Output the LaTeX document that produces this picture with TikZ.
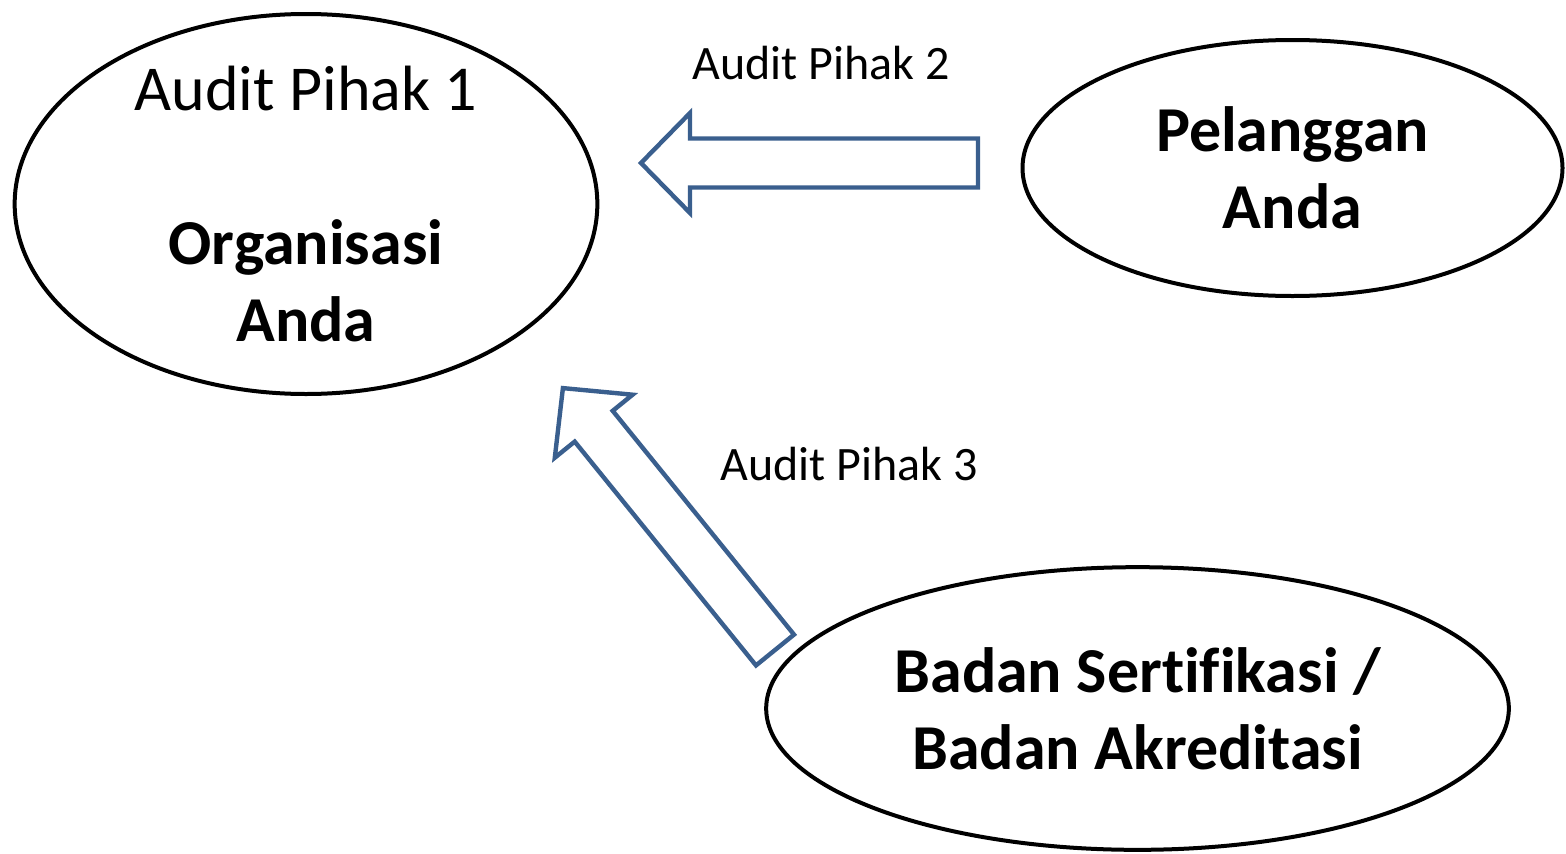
\documentclass[tikz,border=0pt]{standalone}
\usepackage{fontspec}
\setmainfont{Carlito}[Ligatures=NoCommon]
\usetikzlibrary{shapes.geometric}
\definecolor{arrowblue}{HTML}{3A5F8E}
\begin{document}
\begin{tikzpicture}[x=0.75pt,y=-0.75pt,
  party/.style={draw=black, line width=3pt, ellipse, inner sep=0pt},
  partytext/.style={align=center, inner sep=0pt,
    font=\fontsize{48}{57.75}\selectfont\bfseries},
  blockarrow/.style={draw=arrowblue, line width=3.3pt, line join=miter, fill=white},
  auditlabel/.style={inner sep=0pt, font=\fontsize{36}{43}\selectfont}]
\useasboundingbox (0,0) rectangle (1566,853);

% the three parties
\node[party, minimum width=437pt, minimum height=285pt] (org) at (306,204) {};
\node[party, minimum width=405pt, minimum height=192pt] (cust) at (1292.5,168) {};
\node[party, minimum width=557pt, minimum height=212pt] (cert) at (1137.5,708.5) {};

\node[partytext] (orgtext) at (org.center) {{\mdseries Audit Pihak 1}\\[58pt]Organisasi\\Anda};
\node[partytext] (custtext) at (cust.center) {Pelanggan\\Anda};
\node[partytext] (certtext) at (cert.center) {Badan Sertifikasi /\\Badan Akreditasi};

% second-party audit: customer towards the organisation
\draw[blockarrow] (978,138.5) -- (690,138.5) -- (690,113) -- (641,163)
  -- (690,213) -- (690,187.5) -- (978,187.5) -- cycle;
% third-party audit: certification body towards the organisation
\draw[blockarrow] (794.0,634.6) -- (612.7,410.8) -- (632.6,394.7) -- (562.9,388.1)
  -- (554.8,457.7) -- (574.7,441.6) -- (756.0,665.4) -- cycle;

\node[auditlabel] (lab2) at (821,63) {Audit Pihak 2};
\node[auditlabel] (lab3) at (849,464) {Audit Pihak 3};
\end{tikzpicture}
\end{document}
